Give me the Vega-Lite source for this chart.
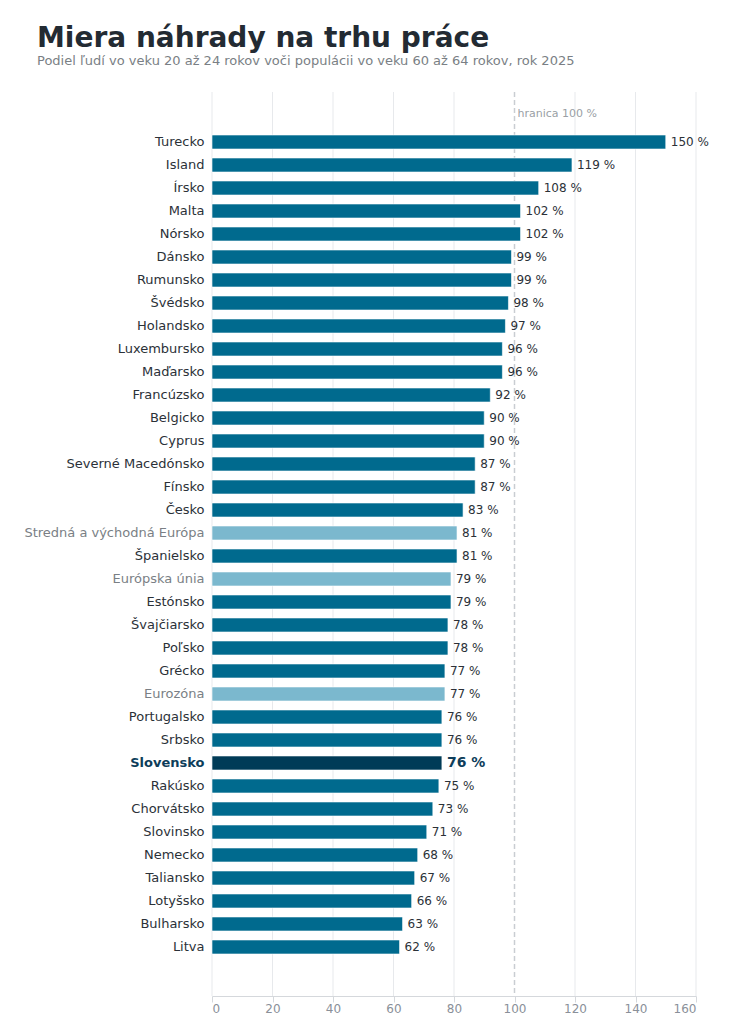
{
  "$schema": "https://vega.github.io/schema/vega-lite/v6.json",
  "autosize": "none",
  "width": 484,
  "height": 904,
  "padding": {"left": 212, "top": 92, "right": 37, "bottom": 28},
  "background": "#ffffff",
  "title": {
    "text": "Miera náhrady na trhu práce",
    "subtitle": "Podiel ľudí vo veku 20 až 24 rokov voči populácii vo veku 60 až 64 rokov, rok 2025",
    "anchor": "start",
    "frame": "group",
    "dx": -175,
    "offset": 23,
    "font": "DejaVu Sans",
    "fontSize": 28,
    "fontWeight": "bold",
    "color": "#232b33",
    "subtitleFont": "DejaVu Sans",
    "subtitleFontSize": 13,
    "subtitleColor": "#7a7f85",
    "subtitlePadding": 2
  },
  "data": {
    "values": [
      {"country": "Turecko", "value": 150, "group": "country"},
      {"country": "Island", "value": 119, "group": "country"},
      {"country": "Írsko", "value": 108, "group": "country"},
      {"country": "Malta", "value": 102, "group": "country"},
      {"country": "Nórsko", "value": 102, "group": "country"},
      {"country": "Dánsko", "value": 99, "group": "country"},
      {"country": "Rumunsko", "value": 99, "group": "country"},
      {"country": "Švédsko", "value": 98, "group": "country"},
      {"country": "Holandsko", "value": 97, "group": "country"},
      {"country": "Luxembursko", "value": 96, "group": "country"},
      {"country": "Maďarsko", "value": 96, "group": "country"},
      {"country": "Francúzsko", "value": 92, "group": "country"},
      {"country": "Belgicko", "value": 90, "group": "country"},
      {"country": "Cyprus", "value": 90, "group": "country"},
      {"country": "Severné Macedónsko", "value": 87, "group": "country"},
      {"country": "Fínsko", "value": 87, "group": "country"},
      {"country": "Česko", "value": 83, "group": "country"},
      {"country": "Stredná a východná Európa", "value": 81, "group": "aggregate"},
      {"country": "Španielsko", "value": 81, "group": "country"},
      {"country": "Európska únia", "value": 79, "group": "aggregate"},
      {"country": "Estónsko", "value": 79, "group": "country"},
      {"country": "Švajčiarsko", "value": 78, "group": "country"},
      {"country": "Poľsko", "value": 78, "group": "country"},
      {"country": "Grécko", "value": 77, "group": "country"},
      {"country": "Eurozóna", "value": 77, "group": "aggregate"},
      {"country": "Portugalsko", "value": 76, "group": "country"},
      {"country": "Srbsko", "value": 76, "group": "country"},
      {"country": "Slovensko", "value": 76, "group": "sk"},
      {"country": "Rakúsko", "value": 75, "group": "country"},
      {"country": "Chorvátsko", "value": 73, "group": "country"},
      {"country": "Slovinsko", "value": 71, "group": "country"},
      {"country": "Nemecko", "value": 68, "group": "country"},
      {"country": "Taliansko", "value": 67, "group": "country"},
      {"country": "Lotyšsko", "value": 66, "group": "country"},
      {"country": "Bulharsko", "value": 63, "group": "country"},
      {"country": "Litva", "value": 62, "group": "country"}
    ]
  },
  "transform": [
    {"calculate": "datum.value + ' %'", "as": "label"}
  ],
  "encoding": {
    "y": {
      "field": "country",
      "type": "nominal",
      "sort": null,
      "title": null,
      "scale": {"paddingInner": 0.39, "paddingOuter": 0, "range": [43, 862]},
      "axis": {
        "domain": false,
        "ticks": false,
        "grid": false,
        "labelPadding": 8,
        "labelFont": "DejaVu Sans",
        "labelFontSize": 13,
        "labelLimit": 300,
        "labelColor": {"expr": "datum.value == 'Slovensko' ? '#0d3d5a' : (indexof(['Stredná a východná Európa', 'Európska únia', 'Eurozóna'], datum.value) >= 0 ? '#7a7f85' : '#2b3138')"},
        "labelFontWeight": {"expr": "datum.value == 'Slovensko' ? 'bold' : 'normal'"}
      }
    }
  },
  "layer": [
    {
      "data": {"values": [{"tick": 0}, {"tick": 20}, {"tick": 40}, {"tick": 60}, {"tick": 80}, {"tick": 120}, {"tick": 140}, {"tick": 160}]},
      "transform": [],
      "mark": {"type": "rule", "color": "#e7e9ec", "strokeWidth": 1},
      "encoding": {
        "x": {"field": "tick", "type": "quantitative"},
        "y": null
      }
    },
    {
      "data": {"values": [{"limit": 100}]},
      "transform": [],
      "mark": {"type": "rule", "color": "#c9cdd2", "strokeWidth": 1.5, "strokeDash": [5, 3]},
      "encoding": {
        "x": {"field": "limit", "type": "quantitative"},
        "y": null
      }
    },
    {
      "mark": {"type": "bar", "stroke": "#ffffff", "strokeWidth": 0.6},
      "encoding": {
        "x": {
          "field": "value",
          "type": "quantitative",
          "title": null,
          "scale": {"domain": [0, 160], "nice": false},
          "axis": {
            "values": [0, 20, 40, 60, 80, 100, 120, 140, 160],
            "grid": false,
            "domainColor": "#d5d8dc",
            "tickColor": "#d5d8dc",
            "tickSize": 6,
            "labelFont": "DejaVu Sans",
            "labelFontSize": 12,
            "labelColor": "#8a9099",
            "labelPadding": 1
          }
        },
        "color": {
          "field": "group",
          "type": "nominal",
          "legend": null,
          "scale": {"domain": ["country", "aggregate", "sk"], "range": ["#006a8e", "#7bb8ce", "#003b57"]}
        }
      }
    },
    {
      "transform": [{"filter": "datum.group != 'sk'"}],
      "mark": {"type": "text", "align": "left", "baseline": "middle", "dx": 5, "font": "DejaVu Sans", "fontSize": 12, "color": "#2b3138"},
      "encoding": {
        "x": {"field": "value", "type": "quantitative"},
        "text": {"field": "label"}
      }
    },
    {
      "transform": [{"filter": "datum.group == 'sk'"}],
      "mark": {"type": "text", "align": "left", "baseline": "middle", "dx": 5, "font": "DejaVu Sans", "fontSize": 14, "fontWeight": "bold", "color": "#0d3d5a"},
      "encoding": {
        "x": {"field": "value", "type": "quantitative"},
        "text": {"field": "label"}
      }
    },
    {
      "data": {"values": [{"limit": 100, "note": "hranica 100 %", "anchor": "Turecko"}]},
      "transform": [],
      "mark": {"type": "text", "align": "left", "baseline": "middle", "dx": 3, "dy": -28, "font": "DejaVu Sans", "fontSize": 11, "color": "#9a9fa5"},
      "encoding": {
        "x": {"field": "limit", "type": "quantitative"},
        "y": {"field": "anchor", "type": "nominal", "sort": null, "scale": {"paddingInner": 0.39, "paddingOuter": 0, "range": [43, 862]}},
        "text": {"field": "note"}
      }
    }
  ],
  "config": {
    "view": {"stroke": null}
  }
}
